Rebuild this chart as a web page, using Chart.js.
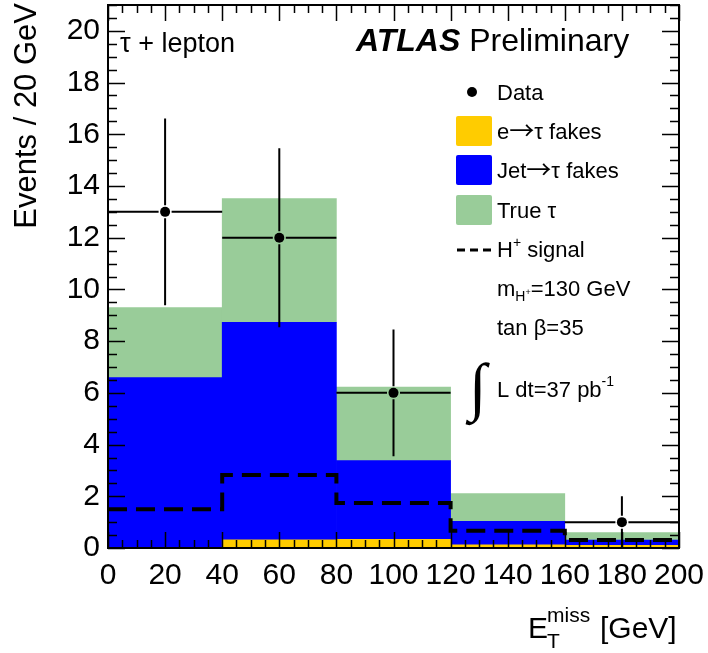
<!DOCTYPE html>
<html>
<head>
<meta charset="utf-8">
<script src="https://cdn.jsdelivr.net/npm/chart.js@4.4.1/dist/chart.umd.min.js"></script>
<style>
  html, body { margin: 0; padding: 0; background: #fff; }
  #wrap { width: 708px; height: 653px; }
</style>
</head>
<body>
<div id="wrap"><canvas id="met" width="708" height="653"></canvas></div>
<script>
// Missing transverse energy, tau + lepton channel, 40 GeV wide bins
const binCentres = [20, 60, 100, 140, 180];
const binEdges = [0, 40, 80, 120, 160, 200];

// background stack, bottom to top
const eFakes = [0.02, 0.32, 0.34, 0.12, 0.10];
const jetFakes = [6.57, 8.41, 3.04, 0.91, 0.21];
const trueTau = [2.71, 4.78, 2.84, 1.07, 0.29];

// H+ signal, m = 130 GeV, tan beta = 35
const hSignal = [1.50, 2.82, 1.74, 0.67, 0.31];

// observed events and their errors (empty bin has no marker)
const dataCounts = [13, 12, 6, null, 1];
const dataErrors = [3.61, 3.46, 2.45, null, 1.00];

const xTicks = [0, 20, 40, 60, 80, 100, 120, 140, 160, 180, 200];
const yTicks = [0, 2, 4, 6, 8, 10, 12, 14, 16, 18, 20];

const FONT = '"Liberation Sans", Arial, Helvetica, sans-serif';
const ARROW = '"Noto Sans CJK JP", "DejaVu Sans", sans-serif';
const YELLOW = '#ffcc00';
const BLUE = '#0000ff';
const GREEN = '#99cc99';

const points = vals => binCentres.map((c, i) => ({ x: c, y: vals[i] }));

// step outline: one point per left edge, last value repeated at the right edge
const signalSteps = binEdges.map((e, i) => ({ x: e, y: hSignal[Math.min(i, hSignal.length - 1)] }));

const barStyle = {
  type: 'bar',
  stack: 'bkg',
  order: 2,
  barThickness: 'flex',
  categoryPercentage: 1,
  barPercentage: 1,
  borderWidth: 0
};

// draw text made of several runs (sub/superscripts, symbol glyphs)
function runs(ctx, x, y, parts) {
  for (const [text, size, dy, style, family] of parts) {
    ctx.font = `${style || ''} ${size}px ${family || FONT}`;
    ctx.fillText(text, x, y + dy);
    x += ctx.measureText(text).width;
  }
  return x;
}

const decor = {
  id: 'decor',
  afterDatasetsDraw(chart) {
    const { ctx, chartArea: a, scales: { x, y } } = chart;
    ctx.save();

    // data error bars, leaving a small gap round the marker
    ctx.strokeStyle = '#000';
    ctx.lineWidth = 2;
    const gap = 6.5;
    dataCounts.forEach((n, i) => {
      if (n === null) return;
      const px = x.getPixelForValue(binCentres[i]);
      const py = y.getPixelForValue(n);
      const x0 = x.getPixelForValue(binEdges[i]);
      const x1 = x.getPixelForValue(binEdges[i + 1]);
      const yHi = y.getPixelForValue(n + dataErrors[i]);
      const yLo = y.getPixelForValue(n - dataErrors[i]);
      ctx.beginPath();
      ctx.moveTo(x0, py); ctx.lineTo(px - gap, py);
      ctx.moveTo(px + gap, py); ctx.lineTo(x1, py);
      ctx.moveTo(px, yHi); ctx.lineTo(px, py - gap);
      ctx.moveTo(px, py + gap); ctx.lineTo(px, yLo);
      ctx.stroke();
    });

    // inward ticks on all four sides
    ctx.lineWidth = 1.5;
    ctx.beginPath();
    for (let v = 0; v <= 200; v += 5) {
      const p = Math.round(x.getPixelForValue(v)) + 0.5;
      const len = v % 20 === 0 ? 16 : 8;
      ctx.moveTo(p, a.bottom); ctx.lineTo(p, a.bottom - len);
      ctx.moveTo(p, a.top); ctx.lineTo(p, a.top + len);
    }
    for (let v = 0; v <= 21; v += 0.5) {
      const p = Math.round(y.getPixelForValue(v)) + 0.5;
      const len = v % 2 === 0 ? 17 : 9;
      ctx.moveTo(a.left, p); ctx.lineTo(a.left + len, p);
      ctx.moveTo(a.right, p); ctx.lineTo(a.right - len, p);
    }
    ctx.stroke();

    ctx.lineWidth = 2;
    ctx.strokeRect(a.left, a.top, a.right - a.left, a.bottom - a.top);
    ctx.restore();
  },
  afterDraw(chart) {
    const { ctx } = chart;
    ctx.save();
    ctx.fillStyle = '#000';
    ctx.textAlign = 'left';
    ctx.textBaseline = 'alphabetic';

    ctx.font = `27px ${FONT}`;
    ctx.fillText('τ + lepton', 120, 52);
    runs(ctx, 356, 51, [['ATLAS', 32, 0, 'italic bold'], [' Preliminary', 32, 0]]);

    // legend
    ctx.beginPath();
    ctx.arc(472, 92, 5, 0, Math.PI * 2);
    ctx.fill();
    ctx.font = `22px ${FONT}`;
    ctx.fillText('Data', 497, 100);

    const boxes = [[YELLOW, 116, 'e', ' fakes'], [BLUE, 155, 'Jet', ' fakes'], [GREEN, 195, 'True τ', '']];
    for (const [col, top, head, tail] of boxes) {
      ctx.fillStyle = col;
      ctx.beginPath();
      ctx.roundRect(456, top, 36, 30, 2);
      ctx.fill();
      ctx.fillStyle = '#000';
      if (tail) {
        runs(ctx, 497, top + 23, [[head, 22, 0], ['→', 25, 1, '', ARROW], ['τ' + tail, 22, 0]]);
      } else {
        runs(ctx, 497, top + 23, [[head, 22, 0]]);
      }
    }

    ctx.strokeStyle = '#000';
    ctx.lineWidth = 3;
    ctx.setLineDash([8, 5]);
    ctx.beginPath();
    ctx.moveTo(457, 250); ctx.lineTo(492, 250);
    ctx.stroke();
    ctx.setLineDash([]);

    runs(ctx, 497, 257, [['H', 22, 0], ['+', 14, -10], [' signal', 22, 0]]);
    runs(ctx, 497, 296, [['m', 22, 0], ['H', 14, 5], ['+', 9, -1], ['=130 GeV', 22, 0]]);
    runs(ctx, 497, 335, [['tan β=35', 22, 0]]);

    ctx.font = `64px "Liberation Serif", "DejaVu Serif", serif`;
    ctx.fillText('∫', 469, 408);
    runs(ctx, 497, 397, [['L dt=37 pb', 22, 0], ['-1', 14, -11]]);

    // axis titles
    runs(ctx, 528, 638, [['E', 30, 0]]);
    runs(ctx, 547, 648, [['T', 21, 0]]);
    runs(ctx, 547, 622, [['miss', 21, 0]]);
    runs(ctx, 600, 638, [['[GeV]', 30, 0]]);

    ctx.translate(36, 3);
    ctx.rotate(-Math.PI / 2);
    ctx.textAlign = 'right';
    ctx.font = `31px ${FONT}`;
    ctx.fillText('Events / 20 GeV', 0, 0);
    ctx.restore();
  }
};

new Chart(document.getElementById('met'), {
  type: 'bar',
  data: {
    datasets: [
      {
        type: 'scatter',
        label: 'Data',
        data: points(dataCounts),
        pointRadius: 5,
        pointBackgroundColor: '#000',
        pointBorderWidth: 0,
        order: 0
      },
      {
        type: 'line',
        label: 'H+ signal',
        data: signalSteps,
        stepped: true,
        borderColor: '#000',
        borderWidth: 4,
        borderDash: [19, 9],
        borderCapStyle: 'butt',
        pointRadius: 0,
        fill: false,
        order: 1
      },
      { ...barStyle, label: 'e→τ fakes', data: points(eFakes), backgroundColor: YELLOW },
      { ...barStyle, label: 'Jet→τ fakes', data: points(jetFakes), backgroundColor: BLUE },
      { ...barStyle, label: 'True τ', data: points(trueTau), backgroundColor: GREEN }
    ]
  },
  options: {
    responsive: false,
    devicePixelRatio: 1,
    animation: false,
    events: [],
    layout: { padding: { top: 2, right: 29, left: 0, bottom: 0 } },
    plugins: {
      legend: { display: false },
      tooltip: { enabled: false }
    },
    scales: {
      x: {
        type: 'linear',
        min: 0,
        max: 200,
        offset: false,
        grid: { display: false, drawTicks: false },
        border: { display: false },
        ticks: {
          color: '#000',
          font: { family: FONT, size: 30 },
          padding: 10,
          autoSkip: false,
          maxRotation: 0,
          minRotation: 0
        },
        afterBuildTicks: s => { s.ticks = xTicks.map(v => ({ value: v })); },
        afterFit: s => { s.height = 105; s.paddingLeft = 0; s.paddingRight = 0; }
      },
      y: {
        type: 'linear',
        min: 0,
        max: 21,
        stacked: true,
        grid: { display: false, drawTicks: false },
        border: { display: false },
        ticks: {
          color: '#000',
          font: { family: FONT, size: 30 },
          padding: 8
        },
        afterBuildTicks: s => { s.ticks = yTicks.map(v => ({ value: v })); },
        afterFit: s => { s.width = 108; s.paddingTop = 0; s.paddingBottom = 0; }
      }
    }
  },
  plugins: [decor]
});
</script>
</body>
</html>
